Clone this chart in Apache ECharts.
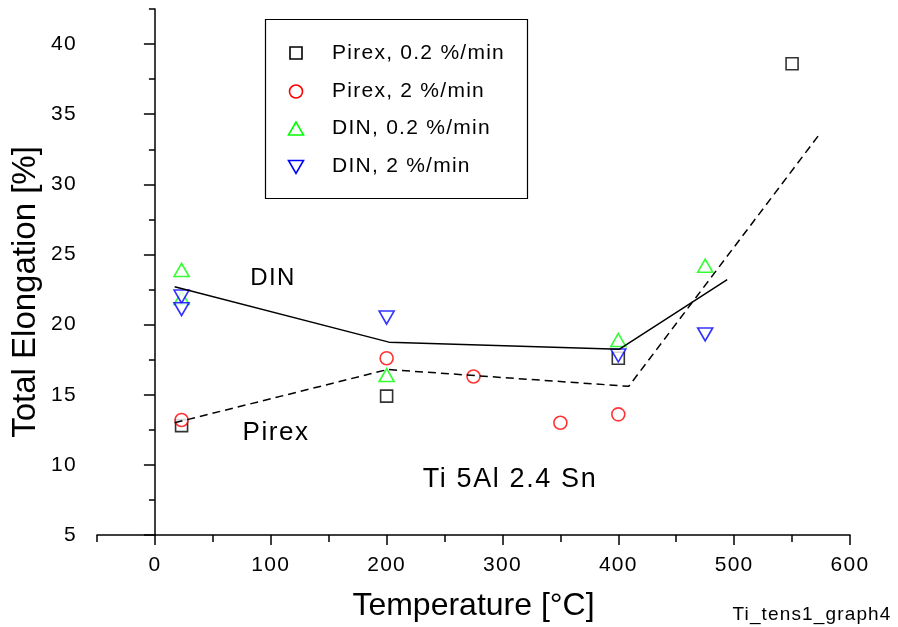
<!DOCTYPE html>
<html>
<head>
<meta charset="utf-8">
<script src="https://cdn.jsdelivr.net/npm/echarts@6/dist/echarts.min.js"></script>
<style>html,body{margin:0;padding:0;background:#fff}#c{width:898px;height:627px}</style>
</head>
<body>
<div id="c"></div>
<script>
// slight letter spacing like the original export
(function(){
  var P = CanvasRenderingContext2D.prototype;
  if (!('letterSpacing' in P)) return;
  function ls(ctx){ var m = /(\d+(?:\.\d+)?)px/.exec(ctx.font); var s = m ? parseFloat(m[1]) : 12; ctx.letterSpacing = (s < 30 ? s * 0.06 : 0).toFixed(2) + 'px'; }
  ['fillText','strokeText','measureText'].forEach(function(n){ var o = P[n]; P[n] = function(){ ls(this); return o.apply(this, arguments); }; });
})();

// ---- data ----
var pirex02X = [23, 200, 400, 550];
var pirex02Y = [12.8, 14.9, 17.6, 38.6];
var pirex2X = [23, 200, 275, 350, 400];
var pirex2Y = [13.2, 17.6, 16.3, 13.0, 13.6];
var din02X = [23, 23, 200, 400, 475];
var din02Y = [23.9, 21.9, 16.4, 18.9, 24.2];
var din2X = [23, 23, 200, 400, 475];
var din2Y = [22.0, 21.1, 20.5, 17.8, 19.3];
var dinLineX = [17, 202, 401, 494];
var dinLineY = [22.7, 18.75, 18.25, 23.2];
var pirexLineX = [17, 201, 409, 573];
var pirexLineY = [13.0, 16.8, 15.6, 33.5];
var xTickLabels = [0, 100, 200, 300, 400, 500, 600];
var yTickLabels = [5, 10, 15, 20, 25, 30, 35, 40];
var legendNames = ['Pirex, 0.2 %/min', 'Pirex, 2 %/min', 'DIN, 0.2 %/min', 'DIN, 2 %/min'];

function zip(xs, ys){ return xs.map(function(x, i){ return [x, ys[i]]; }); }

var FONT = '"Liberation Sans", Arial, sans-serif';
var chart = echarts.init(document.getElementById('c'), null, {renderer: 'canvas'});

var scatterBase = {
  type: 'scatter', xAxisIndex: 0, yAxisIndex: 0, z: 3
};

var option = {
  animation: false,
  backgroundColor: '#fff',
  grid: {left: 97, right: 48, top: 9, bottom: 91, containLabel: false},
  xAxis: [
    {
      type: 'value', position: 'bottom', min: -50, max: 600, interval: 50,
      axisLine: {show: true, lineStyle: {color: '#000', width: 1.5}},
      axisTick: {show: true, length: 7, lineStyle: {color: '#000', width: 1.5}},
      axisLabel: {show: false}, splitLine: {show: false},
      name: 'Temperature [°C]', nameLocation: 'middle', nameGap: 55,
      nameTextStyle: {fontFamily: FONT, fontSize: 32, color: '#000'}
    },
    {
      type: 'value', position: 'bottom', min: -50, max: 600,
      axisLine: {show: false},
      axisTick: {show: true, length: 10, customValues: xTickLabels, lineStyle: {color: '#000', width: 1.5}},
      axisLabel: {show: true, customValues: xTickLabels, margin: 19, color: '#000', fontFamily: FONT, fontSize: 21},
      splitLine: {show: false}
    }
  ],
  yAxis: [
    {
      type: 'value', position: 'left', min: 5, max: 42.5, interval: 2.5,
      axisLine: {show: true, lineStyle: {color: '#000', width: 1.5}},
      axisTick: {show: true, length: 6, lineStyle: {color: '#000', width: 1.5}},
      axisLabel: {show: false}, splitLine: {show: false}
    },
    {
      type: 'value', position: 'left', min: 5, max: 42.5,
      axisLine: {show: false},
      axisTick: {show: true, length: 11, customValues: yTickLabels, lineStyle: {color: '#000', width: 1.5}},
      axisLabel: {show: true, customValues: yTickLabels, margin: 20, color: '#000', fontFamily: FONT, fontSize: 21},
      splitLine: {show: false}
    }
  ],
  series: [
    Object.assign({}, scatterBase, {
      name: legendNames[0], data: zip(pirex02X, pirex02Y), symbol: 'rect', symbolSize: 12,
      itemStyle: {color: '#fff', borderColor: '#000', borderWidth: 1.6}
    }),
    Object.assign({}, scatterBase, {
      name: legendNames[1], data: zip(pirex2X, pirex2Y), symbol: 'circle', symbolSize: 13,
      itemStyle: {color: '#fff', borderColor: '#ff0000', borderWidth: 1.6}
    }),
    Object.assign({}, scatterBase, {
      name: legendNames[2], data: zip(din02X, din02Y), symbol: 'triangle', symbolSize: [15, 13],
      itemStyle: {color: '#fff', borderColor: '#00ff00', borderWidth: 1.6}
    }),
    Object.assign({}, scatterBase, {
      name: legendNames[3], data: zip(din2X, din2Y), symbol: 'triangle', symbolSize: [15, 13], symbolRotate: 180,
      itemStyle: {color: '#fff', borderColor: '#0000ff', borderWidth: 1.6}
    }),
    {
      type: 'line', name: 'DIN fit', data: zip(dinLineX, dinLineY), showSymbol: false, symbol: 'none', z: 4,
      lineStyle: {color: '#000', width: 1.5, type: 'solid'}
    },
    {
      type: 'line', name: 'Pirex fit', data: zip(pirexLineX, pirexLineY), showSymbol: false, symbol: 'none', z: 4,
      lineStyle: {color: '#000', width: 1.5, type: [8, 5]}
    }
  ],
  graphic: [
    {type: 'text', x: 26, y: 292, rotation: Math.PI / 2, style: {text: 'Total Elongation [%]', font: '33px ' + FONT, fill: '#000', textAlign: 'center', textVerticalAlign: 'middle'}, z: 11},
    {type: 'rect', shape: {x: 265.5, y: 19.5, width: 262, height: 179}, style: {fill: '#fff', stroke: '#000', lineWidth: 1.2}, z: 10},
    {type: 'rect', shape: {x: 290, y: 47, width: 12, height: 12}, style: {fill: '#fff', stroke: '#000', lineWidth: 1.6}, z: 11},
    {type: 'circle', shape: {cx: 296, cy: 91.5, r: 6.5}, style: {fill: '#fff', stroke: '#ff0000', lineWidth: 1.6}, z: 11},
    {type: 'polygon', shape: {points: [[296, 122], [288.5, 135], [303.5, 135]]}, style: {fill: '#fff', stroke: '#00ff00', lineWidth: 1.6}, z: 11},
    {type: 'polygon', shape: {points: [[288.5, 160.5], [303.5, 160.5], [296, 173.5]]}, style: {fill: '#fff', stroke: '#0000ff', lineWidth: 1.6}, z: 11},
    {type: 'text', x: 332, y: 53, style: {text: legendNames[0], font: '21px ' + FONT, fill: '#000', textVerticalAlign: 'middle'}, z: 11},
    {type: 'text', x: 332, y: 91, style: {text: legendNames[1], font: '21px ' + FONT, fill: '#000', textVerticalAlign: 'middle'}, z: 11},
    {type: 'text', x: 332, y: 128.5, style: {text: legendNames[2], font: '21px ' + FONT, fill: '#000', textVerticalAlign: 'middle'}, z: 11},
    {type: 'text', x: 332, y: 166.5, style: {text: legendNames[3], font: '21px ' + FONT, fill: '#000', textVerticalAlign: 'middle'}, z: 11},
    {type: 'text', x: 273, y: 278, style: {text: 'DIN', font: '24px ' + FONT, fill: '#000', textAlign: 'center', textVerticalAlign: 'middle'}, z: 11},
    {type: 'text', x: 276, y: 433, style: {text: 'Pirex', font: '26px ' + FONT, fill: '#000', textAlign: 'center', textVerticalAlign: 'middle'}, z: 11},
    {type: 'text', x: 510, y: 480, style: {text: 'Ti 5Al 2.4 Sn', font: '27px ' + FONT, fill: '#000', textAlign: 'center', textVerticalAlign: 'middle'}, z: 11},
    {type: 'text', x: 812, y: 615, style: {text: 'Ti_tens1_graph4', font: '19px ' + FONT, fill: '#000', textAlign: 'center', textVerticalAlign: 'middle'}, z: 11}
  ]
};
chart.setOption(option);
</script>
</body>
</html>
